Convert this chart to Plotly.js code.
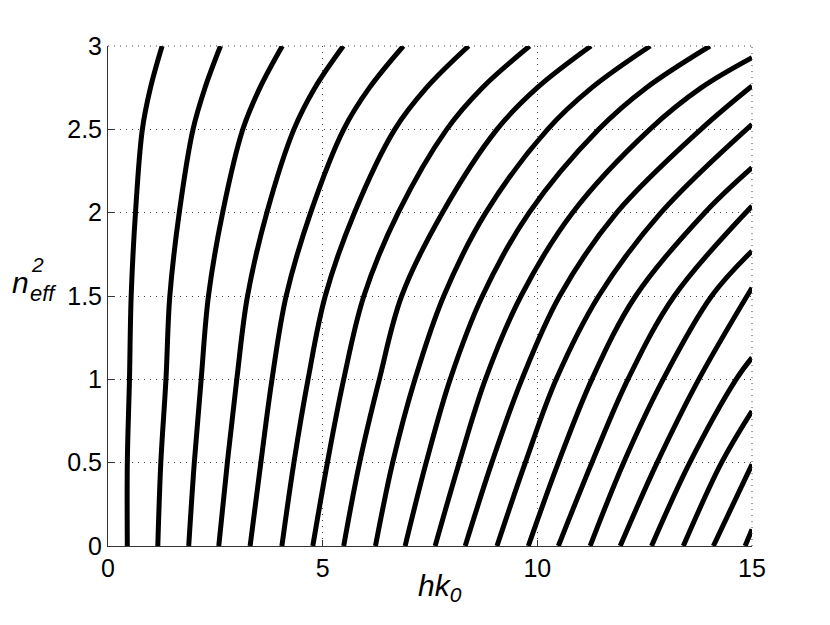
<!DOCTYPE html>
<html>
<head>
<meta charset="utf-8">
<script src="https://cdn.plot.ly/plotly-3.0.1.min.js"></script>
<style>
  html, body { margin: 0; padding: 0; background: #ffffff; }
  #chart { width: 830px; height: 625px; }
</style>
</head>
<body>
<div id="chart"></div>
<script>
// n_eff^2 levels at which the mode curves were read
const levelY = [0, 0.5, 1, 1.5, 2, 2.5, 2.75, 3];

// hk0 of each mode at each level (mode 1 first); modes that already left the
// plot through the right edge are simply missing from the end of the list
const xAtY0   = [0.45, 1.16, 1.88, 2.58, 3.31, 4.05, 4.77, 5.49, 6.23, 6.92, 7.62, 8.32, 9.06, 9.79, 10.49, 11.23, 11.93, 12.66, 13.40, 14.10, 14.84];
const xAtY05  = [0.45, 1.23, 2.01, 2.78, 3.56, 4.33, 5.11, 5.86, 6.63, 7.41, 8.18, 8.94, 9.72, 10.49, 11.27, 12.01, 12.79, 13.55, 14.29];
const xAtY1   = [0.50, 1.35, 2.17, 3.00, 3.82, 4.66, 5.49, 6.32, 7.15, 7.97, 8.79, 9.64, 10.44, 11.27, 12.11, 12.93, 13.76, 14.63];
const xAtY15  = [0.54, 1.44, 2.34, 3.25, 4.15, 5.06, 5.96, 6.84, 7.82, 8.72, 9.62, 10.52, 11.43, 12.29, 13.19, 14.06];
const xAtY2   = [0.64, 1.66, 2.67, 3.70, 4.72, 5.74, 6.76, 7.79, 8.80, 9.81, 10.82, 11.85, 12.88, 13.90];
const xAtY25  = [0.80, 1.98, 3.14, 4.33, 5.49, 6.68, 7.89, 9.06, 10.24, 11.43, 12.62, 13.81];
const xAtY275 = [0.99, 2.26, 3.54, 4.82, 6.09, 7.42, 8.72, 10.00, 11.27, 12.54, 13.82];
const xAtY3   = [1.26, 2.62, 4.06, 5.48, 6.88, 8.40, 9.82, 11.25, 12.63, 14.02];

// n_eff^2 where modes 11..21 cross hk0 = 15
const edgeX = 15;
const edgeY = [2.93, 2.76, 2.53, 2.27, 2.04, 1.77, 1.55, 1.13, 0.81, 0.49, 0.10];

const xTable = [xAtY0, xAtY05, xAtY1, xAtY15, xAtY2, xAtY25, xAtY275, xAtY3];
const modeCount = xAtY0.length;
const firstEdgeMode = modeCount - edgeY.length;

const traces = [];
for (let k = 0; k < modeCount; k++) {
    const xs = [];
    const ys = [];
    xTable.forEach((row, i) => {
        if (k < row.length) {
            xs.push(row[k]);
            ys.push(levelY[i]);
        }
    });
    // mode leaves through the right edge
    if (k >= firstEdgeMode) {
        xs.push(edgeX);
        ys.push(edgeY[k - firstEdgeMode]);
    }
    traces.push({
        x: xs,
        y: ys,
        type: 'scatter',
        mode: 'lines',
        line: { color: '#000000', width: 5, shape: 'spline', smoothing: 1 },
        hoverinfo: 'skip',
        showlegend: false
    });
}

const fontFamily = 'Liberation Sans, Arial, sans-serif';
const tickFont = { family: fontFamily, size: 25, color: '#000000' };

const axisCommon = {
    showgrid: true,
    gridcolor: '#444444',
    griddash: '1px,5px',
    gridwidth: 1,
    zeroline: false,
    showline: true,
    linecolor: '#333333',
    linewidth: 1,
    ticks: 'inside',
    ticklen: 6,
    tickcolor: '#333333',
    tickfont: tickFont
};

// dotted frame on the top and right, like the grid
const dotted = { color: '#444444', width: 1, dash: '1px,5px' };

const layout = {
    width: 830,
    height: 625,
    margin: { l: 107.5, r: 78, t: 46, b: 79 },
    paper_bgcolor: '#ffffff',
    plot_bgcolor: '#ffffff',
    showlegend: false,
    xaxis: Object.assign({}, axisCommon, { range: [0, 15], dtick: 5, tick0: 0 }),
    yaxis: Object.assign({}, axisCommon, { range: [0, 3], dtick: 0.5, tick0: 0 }),
    shapes: [
        { type: 'line', xref: 'paper', yref: 'paper', x0: 0, x1: 1, y0: 1, y1: 1, line: dotted },
        { type: 'line', xref: 'paper', yref: 'paper', x0: 1, x1: 1, y0: 0, y1: 1, line: dotted }
    ],
    annotations: [
        {
            // x label
            text: '<i>hk<sub>0</sub></i>',
            xref: 'paper', yref: 'paper',
            x: 0.516, y: -0.082,
            xanchor: 'center', yanchor: 'middle',
            showarrow: false,
            font: { family: fontFamily, size: 30, color: '#000000' }
        },
        {
            // y label written horizontally like the original
            text: '<i>n</i>',
            xref: 'paper', yref: 'paper',
            x: -0.152, y: 0.528,
            xanchor: 'left', yanchor: 'middle',
            showarrow: false,
            font: { family: fontFamily, size: 30, color: '#000000' }
        },
        {
            text: '<i>eff</i>',
            xref: 'paper', yref: 'paper',
            x: -0.124, y: 0.506,
            xanchor: 'left', yanchor: 'middle',
            showarrow: false,
            font: { family: fontFamily, size: 22, color: '#000000' }
        },
        {
            text: '<i>2</i>',
            xref: 'paper', yref: 'paper',
            x: -0.122, y: 0.564,
            xanchor: 'left', yanchor: 'middle',
            showarrow: false,
            font: { family: fontFamily, size: 21, color: '#000000' }
        }
    ]
};

Plotly.newPlot('chart', traces, layout, { displayModeBar: false, staticPlot: true });
</script>
</body>
</html>
